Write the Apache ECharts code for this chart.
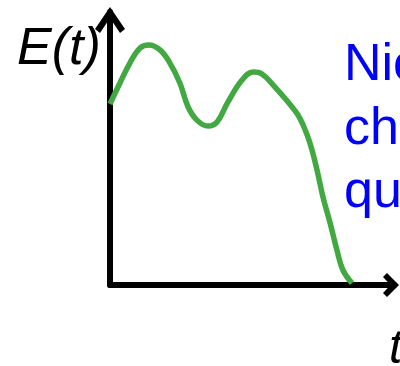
<!DOCTYPE html>
<html>
<head>
<meta charset="utf-8">
<script src="https://cdn.jsdelivr.net/npm/echarts@6/dist/echarts.min.js"></script>
<style>
  html, body { margin: 0; padding: 0; background: #ffffff; }
  #chart { width: 400px; height: 366px; }
</style>
</head>
<body>
<div id="chart"></div>
<script>
// Time samples and the energy curve E(t) over them
const tValues = [0, 0.35, 0.70, 1.06, 1.37, 1.76, 2.11, 2.46, 2.75, 3.06, 3.45, 3.77, 4.15, 4.65,
                 5.04, 5.35, 5.81, 6.27, 6.62, 6.80, 7.04, 7.29, 7.50, 7.75, 7.99, 8.20, 8.52];
const eValues = [6.63, 7.40, 8.13, 8.68, 8.79, 8.61, 8.13, 7.40, 6.52, 6.04, 5.82, 5.97, 6.70, 7.51,
                 7.80, 7.73, 7.25, 6.70, 6.23, 5.86, 5.20, 4.21, 3.22, 2.27, 1.28, 0.55, 0.07];

// Axis extents
const tRange = [0, 10];
const eRange = [0, 10];

// Labels
const yLabel = 'E(t)';
const xLabel = 't';
const noteLines = ['Nic', 'ch', 'qu'];

// Open chevron arrow heads (drawn pointing up, rotated along each axis)
const yArrow = 'path://M15 0 L30 22 L25 26 L15 11 L5 26 L0 22 Z';
const xArrow = 'path://M12 0 L24 12 L20 16 L12 8.5 L4 16 L0 12 Z';

const seriesData = tValues.map((t, i) => [t, eValues[i]]);

const chart = echarts.init(document.getElementById('chart'), null, { renderer: 'canvas' });

const fontFamily = '"Liberation Sans", Arial, Helvetica, sans-serif';

chart.setOption({
  animation: false,
  backgroundColor: '#ffffff',
  grid: { left: 110, right: 6, top: 12, bottom: 81, containLabel: false },
  xAxis: {
    type: 'value',
    min: tRange[0],
    max: tRange[1],
    axisLine: {
      show: true,
      symbol: ['none', xArrow],
      symbolSize: [24, 16],
      symbolOffset: [0, -3],
      lineStyle: { color: '#000000', width: 6 }
    },
    axisTick: { show: false },
    axisLabel: { show: false },
    splitLine: { show: false }
  },
  yAxis: {
    type: 'value',
    min: eRange[0],
    max: eRange[1],
    axisLine: {
      show: true,
      symbol: ['none', yArrow],
      symbolSize: [30, 26],
      symbolOffset: [0, -8],
      lineStyle: { color: '#000000', width: 6 }
    },
    axisTick: { show: false },
    axisLabel: { show: false },
    splitLine: { show: false }
  },
  series: [{
    type: 'line',
    data: seriesData,
    smooth: 0.4,
    showSymbol: false,
    lineStyle: { color: '#41a842', width: 5.5, cap: 'butt' },
    z: 3
  }],
  graphic: [
    {
      type: 'text',
      x: 17, y: 24,
      style: {
        text: yLabel,
        font: 'italic 52px ' + fontFamily,
        fill: '#000000',
        verticalAlign: 'top'
      }
    },
    {
      type: 'text',
      x: 389, y: 326,
      style: {
        text: xLabel,
        font: 'italic 48px ' + fontFamily,
        fill: '#000000',
        verticalAlign: 'top'
      }
    },
    {
      type: 'text',
      x: 344, y: 34,
      style: {
        text: noteLines.join('\n'),
        font: '52px ' + fontFamily,
        lineHeight: 63.5,
        fill: '#0000ff',
        verticalAlign: 'top'
      }
    }
  ]
});
</script>
</body>
</html>
